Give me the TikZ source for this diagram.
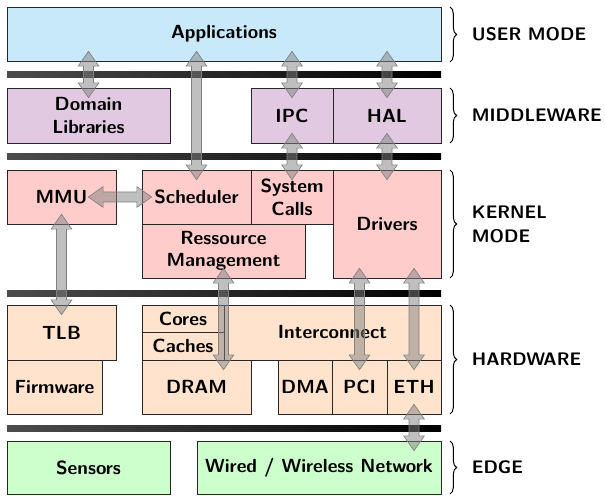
\documentclass[tikz,border=0pt]{standalone}
\usepackage{tikz}
\usetikzlibrary{calc,shapes.arrows,decorations.pathreplacing}
\definecolor{celeste}{HTML}{C7E9F9}
\definecolor{lila}{HTML}{E2C9E2}
\definecolor{rosa}{HTML}{FFCCCC}
\definecolor{durazno}{HTML}{FFE3CC}
\definecolor{menta}{HTML}{CCFFCC}
\definecolor{gris}{HTML}{808080}

% flecha doble gruesa entre dos puntos, metida 6pt en cada caja
\newcommand{\flecha}[2]{%
  \path let \p1=(#1), \p2=(#2), \n1={veclen(\x2-\x1,\y2-\y1)+12pt},
    \n2={atan2(\y2-\y1,\x2-\x1)} in
    node[flechag, minimum height=\n1, rotate=\n2] at ($(\p1)!0.5!(\p2)$) {};}

\begin{document}
\begin{tikzpicture}[x=0.6pt, y=-0.6pt,
    font=\sffamily\bfseries\fontsize{11.4}{13.6}\selectfont,
    caja/.style={draw=black!85, line width=0.4pt, inner sep=0pt, align=center},
    flechag/.style={double arrow, draw=gris, fill=gris, fill opacity=0.5,
      inner xsep=0pt, inner ysep=2.8pt, minimum width=12pt,
      double arrow head extend=3.2pt, double arrow tip angle=70},
    capa/.style={decorate, decoration={brace, amplitude=4pt}, line width=0.6pt}]
  \useasboundingbox (0,0) rectangle (605,496);
  % cajas
  \foreach \n/\xa/\ya/\xb/\yb/\c/\t in {
      app/7/7/441/61/celeste/Applications,
      lib/7/88/170/143/lila/{Domain\\Libraries},
      ipc/251/88/333/143/lila/IPC,
      hal/333/88/441/143/lila/HAL,
      mmu/7/170/116/224/rosa/MMU,
      sched/142/170/251/224/rosa/Scheduler,
      sys/251/170/333/224/rosa/{System\\Calls},
      res/142/224/305/278/rosa/{Ressource\\Management},
      drv/333/170/441/278/rosa/Drivers,
      tlb/7/305/116/360/durazno/TLB,
      fw/7/360/102/414/durazno/Firmware,
      inter/224/305/441/360/durazno/Interconnect,
      cores/142/305/224/332/durazno/Cores,
      caches/142/332/224/360/durazno/Caches,
      dram/142/360/251/414/durazno/DRAM,
      dma/278/360/332/414/durazno/DMA,
      pci/332/360/387/414/durazno/PCI,
      eth/387/360/441/414/durazno/ETH,
      sens/7/441/170/494/menta/Sensors,
      net/197/441/441/494/menta/{Wired / Wireless Network}}
    \node[caja, fill=\c, minimum width=(\xb-\xa)*0.6pt,
      minimum height=(\yb-\ya)*0.6pt] (\n) at ({(\xa+\xb)/2},{(\ya+\yb)/2}) {\t};
  % barras entre capas
  \foreach \y in {72,154,290,425}
    \shade[left color=black!70, right color=black] (7,\y) rectangle (441,\y+6);
  % flechas
  \flecha{app.south -| lib}{lib.north}
  \flecha{app.south -| sched}{sched.north}
  \flecha{app.south -| ipc}{ipc.north}
  \flecha{app.south -| hal}{hal.north}
  \flecha{ipc.south}{sys.north -| ipc}
  \flecha{hal.south}{drv.north -| hal}
  \flecha{$(mmu.east)+(-18,0)$}{sched.west}
  \flecha{mmu.south}{tlb.north}
  \flecha{res.south}{dram.north -| res}
  \flecha{drv.south -| pci}{pci.north}
  \flecha{drv.south -| eth}{eth.north}
  \flecha{eth.south}{net.north -| eth}
  % llaves
  \foreach \ya/\yb/\t in {7/62/USER MODE, 88/143/MIDDLEWARE, 170/278/{KERNEL\\MODE},
      305/414/HARDWARE, 441/494/EDGE}
    \draw[capa] (450,\ya) -- (450,\yb)
      node[midway, anchor=west, xshift=9.5pt, align=left,
        font=\sffamily\bfseries\fontsize{10.9}{14.5}\selectfont] {\t};
\end{tikzpicture}
\end{document}
